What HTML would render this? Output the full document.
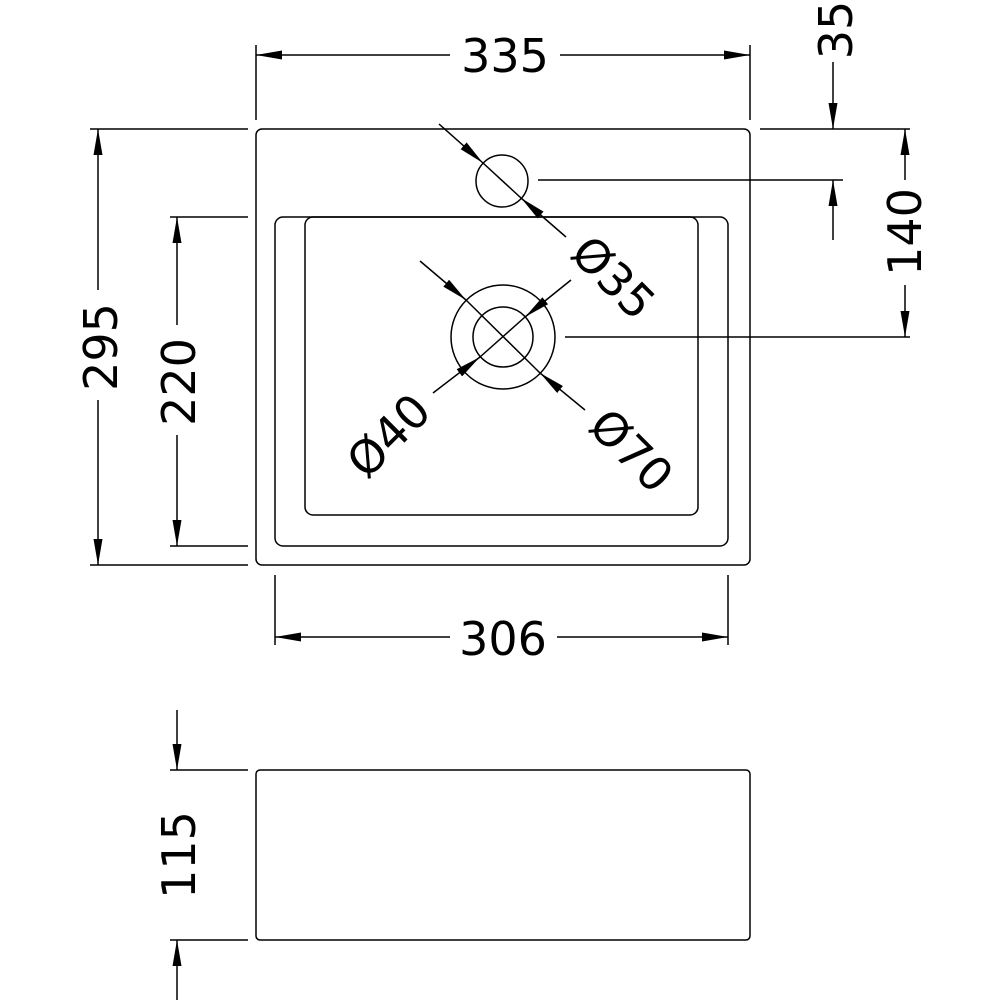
<!DOCTYPE html>
<html><head><style>html,body{margin:0;padding:0;background:#fff}svg{display:block}</style></head>
<body>
<svg width="1000" height="1000" viewBox="0 0 1000 1000" xmlns="http://www.w3.org/2000/svg">
<defs>
<marker id="a" viewBox="0 0 26 9" refX="26" refY="4.5" markerWidth="26" markerHeight="9" markerUnits="userSpaceOnUse" orient="auto"><path d="M0,0L26,4.5L0,9z" fill="#000"/></marker>
</defs>
<g fill="none" stroke="#000" stroke-width="1.5">
<rect x="256" y="129" width="494" height="436" rx="6"/>
<rect x="275" y="217" width="453" height="329" rx="8"/>
<rect x="305" y="217" width="393" height="298" rx="8"/>
<circle cx="502" cy="181" r="26"/>
<circle cx="503" cy="337" r="52"/>
<circle cx="503" cy="337" r="30"/>
<line x1="256" y1="45" x2="256" y2="120"/><line x1="750" y1="45" x2="750" y2="120"/>
<line x1="450" y1="55" x2="256" y2="55" marker-end="url(#a)"/>
<line x1="560" y1="55" x2="750" y2="55" marker-end="url(#a)"/>
<line x1="90" y1="129" x2="248" y2="129"/><line x1="90" y1="565" x2="248" y2="565"/>
<line x1="98" y1="290" x2="98" y2="129" marker-end="url(#a)"/>
<line x1="98" y1="400" x2="98" y2="565" marker-end="url(#a)"/>
<line x1="170" y1="217" x2="248" y2="217"/><line x1="170" y1="546" x2="248" y2="546"/>
<line x1="177" y1="325" x2="177" y2="217" marker-end="url(#a)"/>
<line x1="177" y1="435" x2="177" y2="546" marker-end="url(#a)"/>
<line x1="275" y1="575" x2="275" y2="645"/><line x1="728" y1="575" x2="728" y2="645"/>
<line x1="450" y1="637" x2="275" y2="637" marker-end="url(#a)"/>
<line x1="557" y1="637" x2="728" y2="637" marker-end="url(#a)"/>
<line x1="760" y1="129" x2="910" y2="129"/>
<line x1="565" y1="337" x2="910" y2="337"/>
<line x1="538" y1="180" x2="843" y2="180"/>
<line x1="905" y1="180" x2="905" y2="129" marker-end="url(#a)"/>
<line x1="905" y1="285" x2="905" y2="337" marker-end="url(#a)"/>
<line x1="833" y1="62" x2="833" y2="129" marker-end="url(#a)"/>
<line x1="833" y1="240" x2="833" y2="180" marker-end="url(#a)"/>
<line x1="439" y1="124" x2="483" y2="163" marker-end="url(#a)"/>
<line x1="566" y1="237" x2="521" y2="198" marker-end="url(#a)"/>
<line x1="483" y1="163" x2="521" y2="198"/>
<line x1="420" y1="261" x2="466" y2="300" marker-end="url(#a)"/>
<line x1="585" y1="410" x2="540" y2="373" marker-end="url(#a)"/>
<line x1="466" y1="300" x2="540" y2="373"/>
<line x1="571" y1="280" x2="525" y2="317" marker-end="url(#a)"/>
<line x1="433" y1="393" x2="480" y2="357" marker-end="url(#a)"/>
<line x1="525" y1="317" x2="480" y2="357"/>
<rect x="256" y="770" width="494" height="170" rx="4"/>
<line x1="170" y1="770" x2="248" y2="770"/><line x1="170" y1="940" x2="248" y2="940"/>
<line x1="177" y1="710" x2="177" y2="770" marker-end="url(#a)"/>
<line x1="177" y1="1000" x2="177" y2="940" marker-end="url(#a)"/>
</g>
<g font-family="DejaVu Sans, sans-serif" font-size="46" fill="#000" text-anchor="middle">
<text x="505" y="72">335</text>
<text x="503" y="655">306</text>
<text transform="translate(117,347) rotate(-90)">295</text>
<text transform="translate(195,382) rotate(-90)">220</text>
<text transform="translate(921,232) rotate(-90)">140</text>
<text transform="translate(852,30) rotate(-90)">35</text>
<text transform="translate(195,855) rotate(-90)">115</text>
<text transform="translate(602,289) rotate(45)">Ø35</text>
<text transform="translate(400,447) rotate(-45)">Ø40</text>
<text transform="translate(620,462) rotate(45)">Ø70</text>
</g>
</svg>
</body></html>
